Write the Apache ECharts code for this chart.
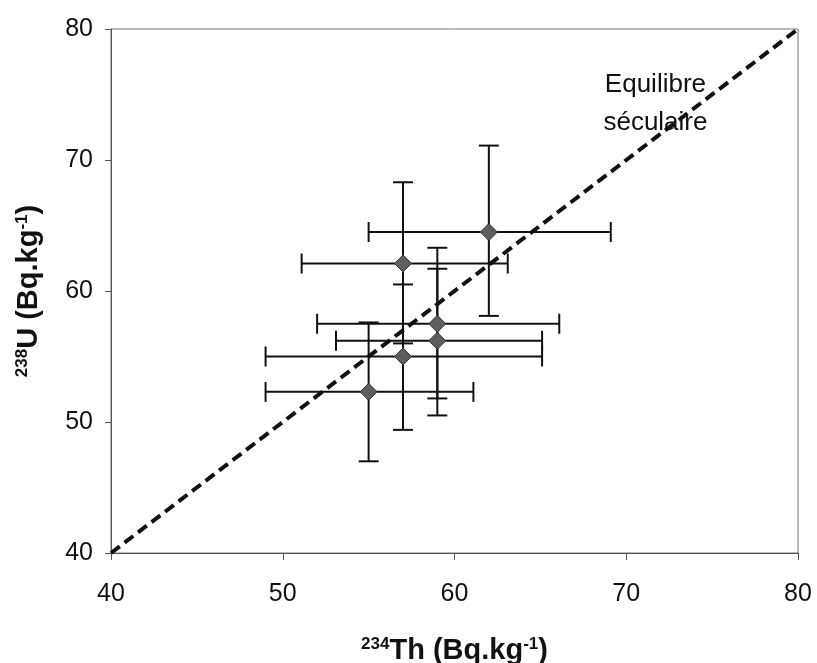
<!DOCTYPE html>
<html>
<head>
<meta charset="utf-8">
<script src="https://cdn.jsdelivr.net/npm/echarts@6/dist/echarts.min.js"></script>
<style>
html,body{margin:0;padding:0;background:#fff;}
#c{width:817px;height:663px;}
</style>
</head>
<body>
<div id="c"></div>
<script>
// Data
const th = [62, 57, 59, 59, 57, 55];
const u = [64.5, 62.1, 57.5, 56.2, 55.0, 52.3];
const thLow = [55.0, 51.1, 52.0, 53.1, 49.0, 49.0];
const thHigh = [69.1, 63.1, 66.1, 65.1, 65.1, 61.1];
const uLow = [58.1, 56.0, 51.8, 50.5, 49.4, 47.0];
const uHigh = [71.1, 68.3, 63.3, 61.7, 60.5, 57.6];
const equilibrium = [[40, 40], [80, 80]];
const xTicks = [40, 50, 60, 70, 80];
const yTicks = [40, 50, 60, 70, 80];
const annotation = ['Equilibre', 'séculaire'];
const annotationPos = [71.7, 74.3];

const FONT = 'Liberation Sans, Arial, sans-serif';
const points = th.map((v, i) => [v, u[i], thLow[i], thHigh[i], uLow[i], uHigh[i]]);

const chart = echarts.init(document.getElementById('c'));
const capHalf = 10;
const titleRich = {
  b: { fontFamily: FONT, fontSize: 29, fontWeight: 'bold', color: '#111' },
  sup: { fontFamily: FONT, fontSize: 17, fontWeight: 'bold', color: '#111', verticalAlign: 'top', padding: [0,0,11,0] }
};
chart.setOption({
  animation: false,
  grid: { left: 111, right: 19, top: 29, bottom: 110, containLabel: false, outerBoundsMode: 'none',
    show: true, borderColor: '#777', borderWidth: 1 },
  xAxis: {
    type: 'value', min: 40, max: 80, interval: 10,
    splitLine: { show: false },
    axisLine: { show: true, lineStyle: { color: '#555', width: 1 } },
    axisTick: { show: true, length: 7, lineStyle: { color: '#555' } },
    axisLabel: { fontFamily: FONT, fontSize: 25, color: '#111', margin: 29,
      formatter: v => xTicks.includes(v) ? String(v) : '' },
    name: '{sup|234}{b|Th (Bq.kg}{sup|-1}{b|)}',
    nameLocation: 'middle', nameGap: 83,
    nameTextStyle: { rich: titleRich }
  },
  yAxis: {
    type: 'value', min: 40, max: 80, interval: 10,
    splitLine: { show: false },
    axisLine: { show: true, lineStyle: { color: '#555', width: 1 } },
    axisTick: { show: true, length: 6, lineStyle: { color: '#555' } },
    axisLabel: { fontFamily: FONT, fontSize: 25, color: '#111', margin: 18,
      formatter: v => yTicks.includes(v) ? String(v) : '' },
    name: '{sup|238}{b|U (Bq.kg}{sup|-1}{b|)}',
    nameLocation: 'middle', nameGap: 68, nameRotate: 90,
    nameTextStyle: { rich: titleRich }
  },
  series: [
    {
      type: 'custom',
      data: points,
      z: 2,
      renderItem: function (params, api) {
        const x = api.value(0), y = api.value(1);
        const xl = api.coord([api.value(2), y]);
        const xh = api.coord([api.value(3), y]);
        const yl = api.coord([x, api.value(4)]);
        const yh = api.coord([x, api.value(5)]);
        const st = { stroke: '#111', lineWidth: 2 };
        const line = (x1, y1, x2, y2) => ({ type: 'line', shape: { x1, y1, x2, y2 }, style: st });
        return {
          type: 'group',
          children: [
            line(xl[0], xl[1], xh[0], xh[1]),
            line(xl[0], xl[1] - capHalf, xl[0], xl[1] + capHalf),
            line(xh[0], xh[1] - capHalf, xh[0], xh[1] + capHalf),
            line(yl[0], yl[1], yh[0], yh[1]),
            line(yl[0] - capHalf, yl[1], yl[0] + capHalf, yl[1]),
            line(yh[0] - capHalf, yh[1], yh[0] + capHalf, yh[1])
          ]
        };
      }
    },
    {
      type: 'line',
      data: equilibrium,
      z: 3,
      symbol: 'none',
      lineStyle: { color: '#111', width: 4, type: [11, 6] }
    },
    {
      type: 'scatter',
      data: th.map((v, i) => [v, u[i]]),
      z: 4,
      symbol: 'diamond',
      symbolSize: 17,
      itemStyle: { color: '#5e5e5e', borderColor: '#333', borderWidth: 1, opacity: 1 }
    }
  ]
});
const p = chart.convertToPixel({ gridIndex: 0 }, annotationPos);
chart.setOption({
  graphic: [{
    type: 'text', x: p[0], y: p[1], z: 10,
    style: { text: annotation.join('\n'), fontFamily: FONT, fontSize: 26, fill: '#111',
      lineHeight: 38, align: 'center', verticalAlign: 'middle' }
  }]
});
</script>
</body>
</html>
